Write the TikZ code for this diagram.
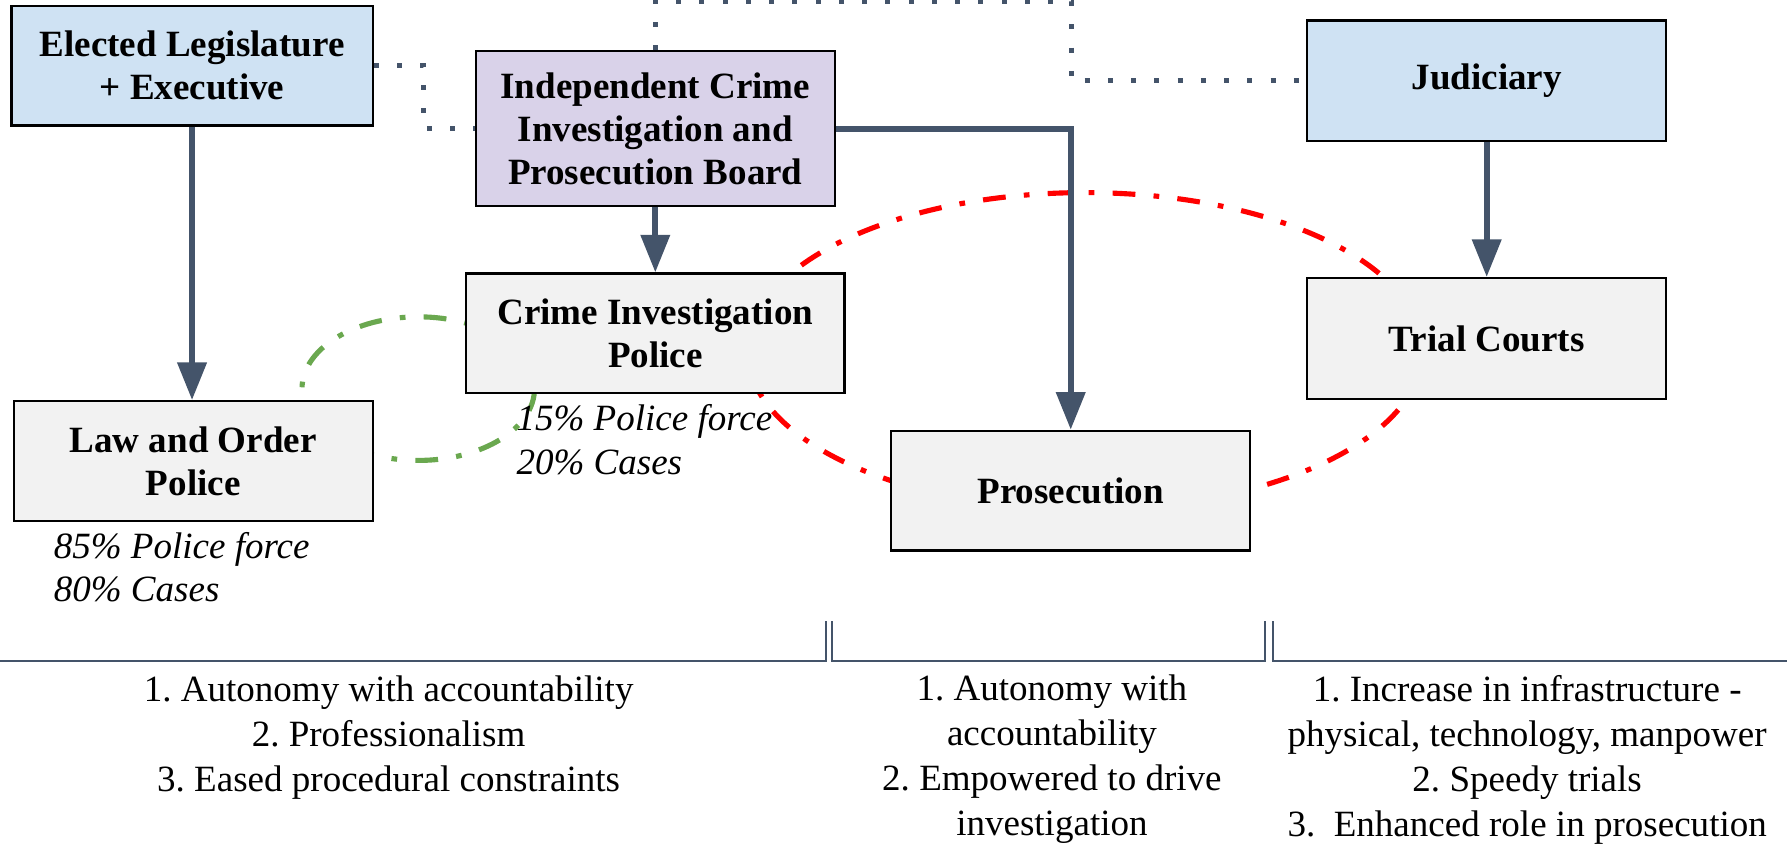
\documentclass[tikz,border=0pt]{standalone}
\usepackage{fontspec}
\setmainfont{Liberation Serif}
\usepackage{tikz}
\usetikzlibrary{arrows.meta}
\frenchspacing

\definecolor{slate}{HTML}{44546A}
\definecolor{govblue}{HTML}{CFE2F3}
\definecolor{boardlilac}{HTML}{D9D2E9}
\definecolor{boxgray}{HTML}{F2F2F2}
\definecolor{loopgreen}{HTML}{6AA84F}

\begin{document}
\begin{tikzpicture}[x=1pt,y=1pt,yscale=-1,
  box/.style={draw=black,line width=2pt,minimum width=315pt,minimum height=105pt,align=center,inner sep=0pt,font=\fontsize{32.5}{38}\selectfont\bfseries},
  flow/.style={draw=slate,line width=5pt,-{Triangle[length=33pt,width=25pt]}},
  link/.style={draw=slate,line width=4.4pt,dash pattern=on 4.4pt off 16pt},
  ring/.style={line width=4.5pt,dash pattern=on 20pt off 16pt on 5pt off 16pt},
  share/.style={anchor=north west,align=left,inner sep=0pt,font=\fontsize{32.5}{38}\selectfont\itshape},
  aim/.style={anchor=north,align=center,inner sep=0pt,font=\fontsize{32.5}{39.5}\selectfont},
  divider/.style={draw=slate,line width=2pt}]

\useasboundingbox (0,0) rectangle (1568,741);

% the two feedback loops, behind the boxes
\draw[red,ring] (952,308) ellipse [x radius=296, y radius=139];

\draw[loopgreen,ring] (367,341) ellipse [x radius=102, y radius=63];

\node[box,fill=govblue,minimum width=317pt] (elected) at (168.5,57.5) {Elected Legislature\\+ Executive};

\node[box,fill=boardlilac,minimum height=136pt] (board) at (575,113) {Independent Crime\\Investigation and\\Prosecution Board};

\node[box,fill=govblue,minimum height=106pt] (judiciary) at (1304.5,71) {Judiciary};

\node[box,fill=boxgray,minimum width=332pt] (cip) at (575,292.5) {Crime Investigation\\Police};

\node[box,fill=boxgray] (law) at (169.5,404.5) {Law and Order\\Police};

\node[box,fill=boxgray] (pros) at (939.5,430.5) {Prosecution};

\node[box,fill=boxgray,minimum height=106pt] (trial) at (1304.5,297) {Trial Courts};

\node[share] (cipshare) at (453,355) {15\% Police force\\20\% Cases};

\node[share] (lawshare) at (47,467) {85\% Police force\\80\% Cases};

% reporting lines
\draw[flow] (elected.south) -- (elected.south |- law.north);

\draw[flow] (board.south) -- (cip.north);

\draw[flow] (board.east) -| (pros.north);

\draw[flow] (judiciary.south) -- (trial.north);

% oversight links
\draw[link] (elected.east) -- ++(44,0) |- (board.west);

\coordinate (ridge) at (940,1);
\draw[link] (board.north) |- (ridge) |- (judiciary.west);

% reform columns
\draw[divider] (0,580) -| (725,545);

\draw[divider] (730,545) |- (1110,580) -- (1110,545);

\draw[divider] (1117,545) |- (1568,580);

\node[aim] (investaims) at (341,593) {1. Autonomy with accountability\\2. Professionalism\\3. Eased procedural constraints};

\node[aim] (prosaims) at (923,592) {1. Autonomy with\\accountability\\2. Empowered to drive\\investigation};

\node[aim] (courtaims) at (1340,592) {1. Increase in infrastructure -\\physical, technology, manpower\\2. Speedy trials\\3.~ Enhanced role in prosecution};

\end{tikzpicture}
\end{document}
